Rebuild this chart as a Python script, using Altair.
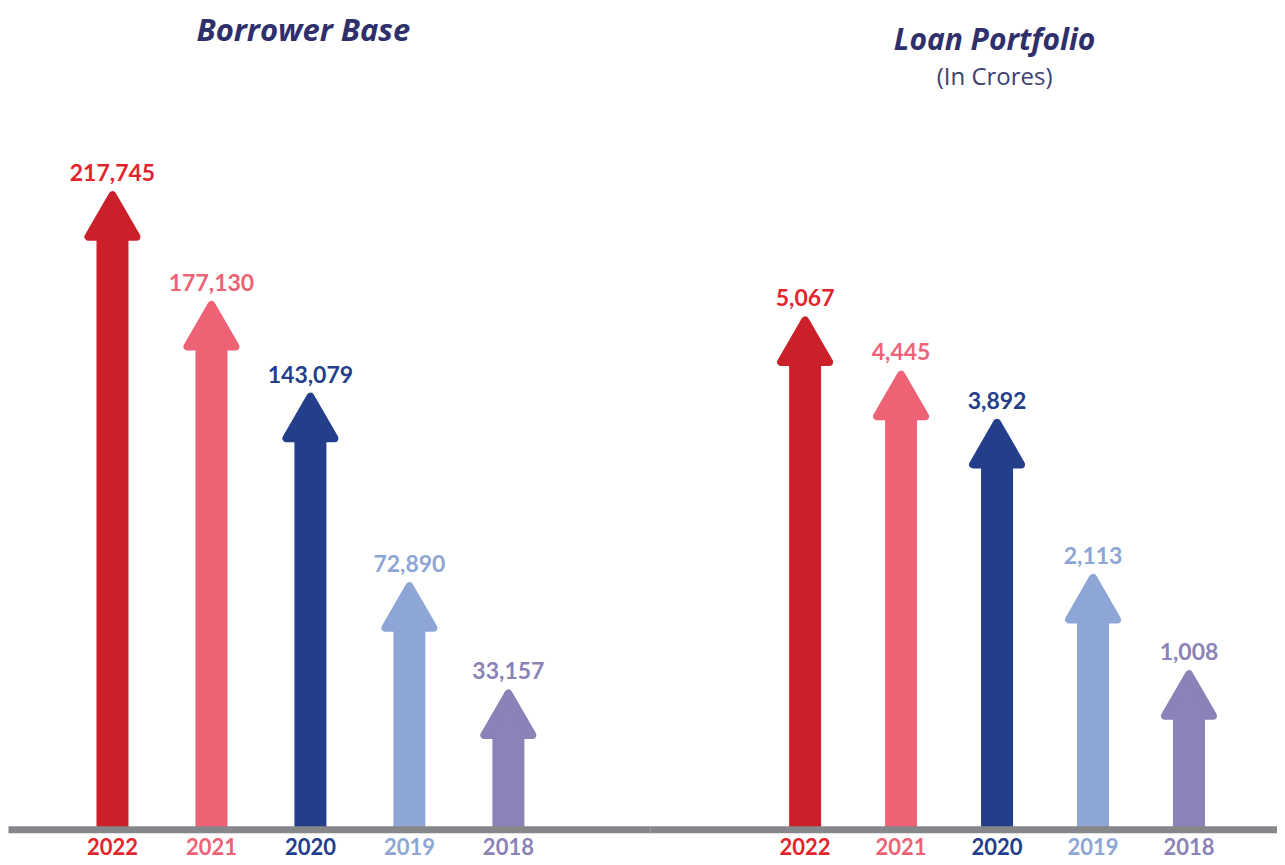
import altair as alt
import pandas as pd

years = ["2022", "2021", "2020", "2019", "2018"]
borrowers = [217745, 177130, 143079, 72890, 33157]
loans = [5067, 4445, 3892, 2113, 1008]

arrow_colors = ["#CB2029", "#EE6276", "#233E8B", "#8DA6D5", "#8B82B8"]
text_colors = ["#E3242B", "#EE6276", "#233E8B", "#8DA6D5", "#8B82B8"]

TITLE_COLOR = "#2E2F6B"
H = 726


def panel(values, dmin, dmax, width, pad_outer, align, title):
    df = pd.DataFrame({"year": years, "value": values})
    base = alt.Chart(df)
    x = alt.X("year:N", sort=years, axis=None,
              scale=alt.Scale(paddingInner=0, paddingOuter=pad_outer, align=align))
    y = alt.Y("value:Q", axis=None,
              scale=alt.Scale(domain=[dmin, dmax], zero=False, nice=False))
    arrow_scale = alt.Scale(domain=years, range=arrow_colors)
    text_scale = alt.Scale(domain=years, range=text_colors)

    shaft = base.mark_bar(size=32, yOffset=35, clip=True).encode(
        x=x, y=y, y2=alt.datum(dmin),
        color=alt.Color("year:N", scale=arrow_scale, legend=None),
    )
    head = base.mark_point(shape="triangle-up", size=2304, filled=True, opacity=1,
                           strokeWidth=8, strokeJoin="round", yOffset=25).encode(
        x=x, y=y,
        fill=alt.Fill("year:N", scale=arrow_scale, legend=None),
        stroke=alt.Stroke("year:N", scale=arrow_scale, legend=None),
    )
    baseline = alt.Chart(pd.DataFrame({"b": [dmin]})).mark_rule(
        color="#86878A", strokeWidth=7).encode(y=alt.Y("b:Q", axis=None))
    vlabels = base.mark_text(font="Lato", fontWeight="bold", fontSize=23,
                             baseline="alphabetic", dy=-10).encode(
        x=x, y=y, text=alt.Text("value:Q", format=","),
        color=alt.Color("year:N", scale=text_scale, legend=None),
    )
    ylabels = base.mark_text(font="Lato", fontWeight="bold", fontSize=22,
                             baseline="alphabetic", dy=25).encode(
        x=x, y=alt.datum(dmin), text="year:N",
        color=alt.Color("year:N", scale=text_scale, legend=None),
    )
    return alt.layer(shaft, head, baseline, vlabels, ylabels).resolve_scale(
        color="independent"
    ).properties(width=width, height=H, title=title)


left_title = alt.TitleParams(
    "Borrower Base", font="Open Sans", fontSize=31, fontWeight="bold",
    fontStyle="italic", color=TITLE_COLOR, anchor="middle", dx=-26, offset=56,
)
right_title = alt.TitleParams(
    "Loan Portfolio", subtitle="(In Crores)", font="Open Sans", fontSize=30,
    fontWeight="bold", fontStyle="italic", color=TITLE_COLOR, anchor="middle",
    dx=27, offset=14, subtitleFont="Open Sans", subtitleFontSize=24,
    subtitleColor="#3E4070", subtitlePadding=10,
)

left = panel(borrowers, -18900, 249940, 642, 0.742, 0.371, left_title)
right = panel(loans, -827, 7501, 635, 0.807, 0.69, right_title)

chart = alt.hconcat(left, right, spacing=0, bounds="flush").resolve_scale(
    x="independent", y="independent"
).properties(
    padding={"left": -3.5, "top": 8, "right": -12, "bottom": 0}
).configure_view(stroke=None)

chart.save("out.html", embed_options={"renderer": "svg", "actions": False})
